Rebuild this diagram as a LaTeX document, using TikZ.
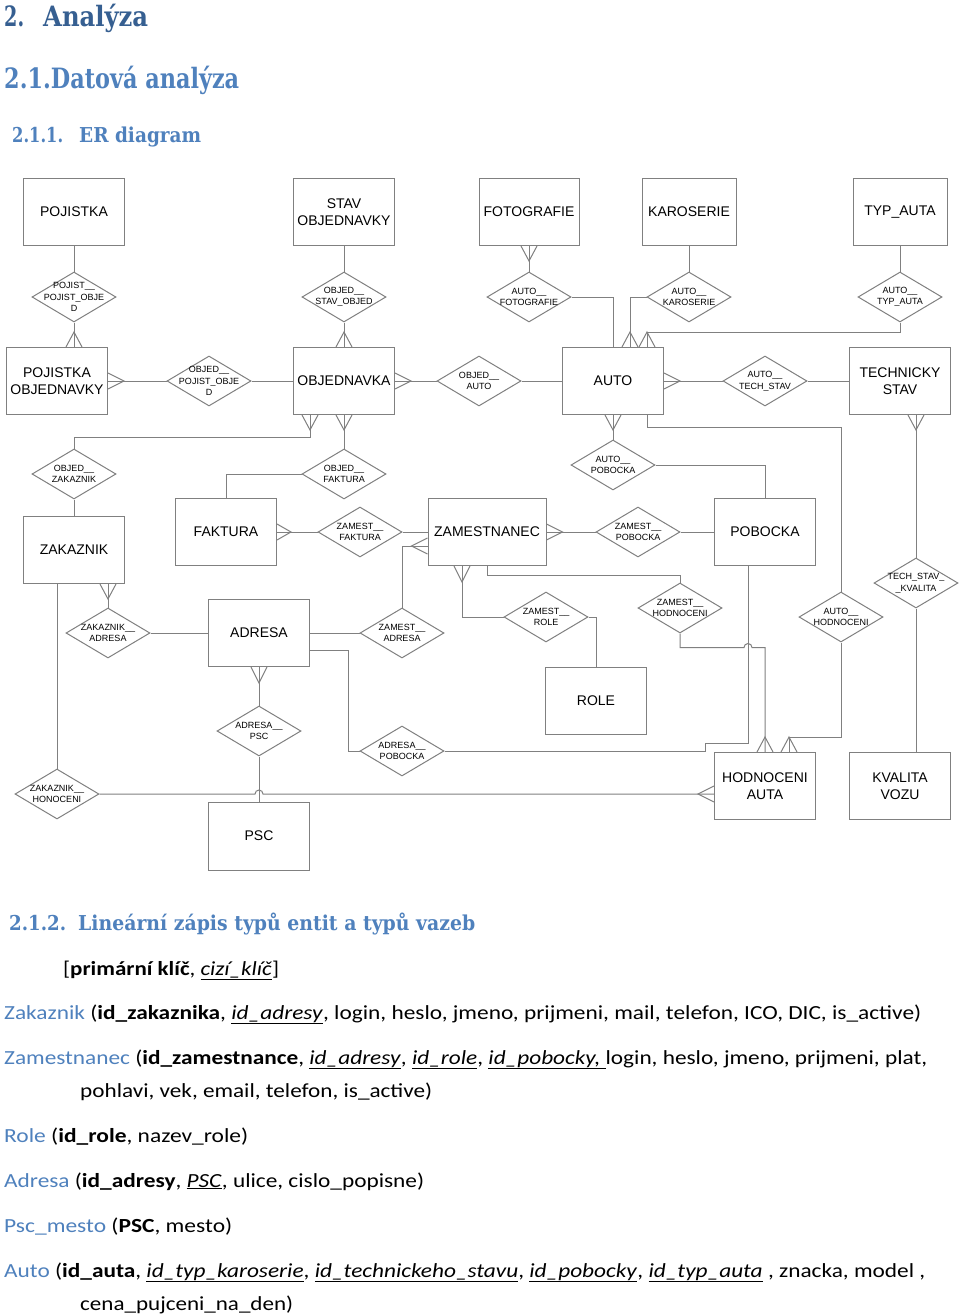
\documentclass[tikz,border=0pt]{standalone}
\usepackage{fontspec}
\usepackage{graphicx}
\usetikzlibrary{shapes.geometric,calc}
\setmainfont{Carlito}
\newfontfamily\arialf{Liberation Sans}
\newfontfamily\headf{DejaVu Serif}
\definecolor{lc}{RGB}{128,128,128}
\definecolor{hdark}{RGB}{54,95,145}
\definecolor{hblue}{RGB}{79,129,189}
\newcommand{\fk}[1]{\underline{\textit{#1}}}
\newcommand{\rel}[3]{\node[reln] (#1) at (#2) {};\node[rtext] (#1-t) at (#1) {#3};}
\newcommand{\crowv}[2]{\draw[conn] ([xshift=-8pt]#1) -- ($(#1)+(0,#2)$) -- ([xshift=8pt]#1);}
\newcommand{\crowh}[2]{\draw[conn] ([yshift=-8pt]#1) -- ($(#1)+(#2,0)$) -- ([yshift=8pt]#1);}
\begin{document}
\begin{tikzpicture}[x=1pt,y=-1pt,
  ent/.style={draw=lc, line width=1pt, minimum width=101pt, minimum height=67pt, inner sep=0pt, align=center, text=black, font=\arialf\fontsize{14}{17.5}\selectfont},
  reln/.style={shape=diamond, draw=lc, line width=1pt, minimum width=84pt, minimum height=50pt, inner sep=0pt},
  rtext/.style={align=center, inner sep=0pt, text=black, font=\arialf\fontsize{9}{11.5}\selectfont},
  conn/.style={draw=lc, line width=1pt},
  txt/.style={anchor=base west, inner sep=0pt, text=black, font=\fontsize{20}{24}\selectfont},
  hd1/.style={anchor=base west, inner sep=0pt, text=hdark, font=\headf\bfseries\fontsize{28}{32}\selectfont},
  hd2/.style={anchor=base west, inner sep=0pt, text=hblue, font=\headf\bfseries\fontsize{28}{32}\selectfont},
  hd3/.style={anchor=base west, inner sep=0pt, text=hblue, font=\headf\bfseries\fontsize{20.5}{24}\selectfont}
]
\fill[white] (0,0) rectangle (960,1316);
\useasboundingbox (0,0) rectangle (960,1316);

% headings
\node[hd1] (h1n) at (4,27) {\resizebox{20pt}{\height}{2.}};
\node[hd1] (h1t) at (43,27) {\resizebox{105pt}{\height}{Analýza}};
\node[hd2] (h2) at (4,89) {\resizebox{235pt}{\height}{2.1.Datová analýza}};
\node[hd3] (h3n) at (12,143) {\resizebox{51pt}{\height}{2.1.1.}};
\node[hd3] (h3t) at (79,143) {\resizebox{122pt}{\height}{ER diagram}};

% entities
\node[ent] (POJISTKA) at (74,212) {POJISTKA};
\node[ent] (STAVOBJ) at (344,212) {STAV\\OBJEDNAVKY};
\node[ent, minimum width=100pt] (FOTOGRAFIE) at (529,212) {FOTOGRAFIE};
\node[ent, minimum width=94pt] (KAROSERIE) at (689,212) {KAROSERIE};
\node[ent, minimum width=94pt] (TYPAUTA) at (900,212) {TYP\_AUTA};
\node[ent] (POJOBJ) at (57,381) {POJISTKA\\OBJEDNAVKY};
\node[ent] (OBJEDNAVKA) at (344,381) {OBJEDNAVKA};
\node[ent] (AUTO) at (613,381) {AUTO};
\node[ent] (TECHSTAV) at (900,381) {TECHNICKY\\STAV};
\node[ent] (ZAKAZNIK) at (74,550) {ZAKAZNIK};
\node[ent] (FAKTURA) at (226,532) {FAKTURA};
\node[ent, minimum width=118pt] (ZAMESTNANEC) at (487,532) {ZAMESTNANEC};
\node[ent] (POBOCKA) at (765,532) {POBOCKA};
\node[ent] (ADRESA) at (259,633) {ADRESA};
\node[ent] (ROLE) at (596,701) {ROLE};
\node[ent, minimum height=68pt] (PSC) at (259,836) {PSC};
\node[ent] (HODNOCENI) at (765,786) {HODNOCENI\\AUTA};
\node[ent] (KVALITA) at (900,786) {KVALITA\\VOZU};

% relationships
\rel{d1}{74,297}{POJIST\_\_\\POJIST\_OBJE\\D}
\rel{d2}{344,297}{OBJED\_\_\\STAV\_OBJED}
\rel{d3}{529,297}{AUTO\_\_\\FOTOGRAFIE}
\rel{d4}{689,297}{AUTO\_\_\\KAROSERIE}
\rel{d5}{900,297}{AUTO\_\_\\TYP\_AUTA}
\rel{d6}{209,381}{OBJED\_\_\\POJIST\_OBJE\\D}
\rel{d7}{479,381}{OBJED\_\_\\AUTO}
\rel{d8}{765,381}{AUTO\_\_\\TECH\_STAV}
\rel{d9}{74,474}{OBJED\_\_\\ZAKAZNIK}
\rel{d10}{344,474}{OBJED\_\_\\FAKTURA}
\rel{d11}{613,465}{AUTO\_\_\\POBOCKA}
\rel{d12}{360,532}{ZAMEST\_\_\\FAKTURA}
\rel{d13}{638,532}{ZAMEST\_\_\\POBOCKA}
\rel{d14}{916,583}{TECH\_STAV\_\\\_KVALITA}
\rel{d15}{108,633}{ZAKAZNIK\_\_\\ADRESA}
\rel{d16}{402,633}{ZAMEST\_\_\\ADRESA}
\rel{d17}{546,617}{ZAMEST\_\_\\ROLE}
\rel{d18}{680,608}{ZAMEST\_\_\\HODNOCENI}
\rel{d19}{841,617}{AUTO\_\_\\HODNOCENI}
\rel{d20}{259,731}{ADRESA\_\_\\PSC}
\rel{d21}{402,751}{ADRESA\_\_\\POBOCKA}
\rel{d22}{57,794}{ZAKAZNIK\_\_\\HONOCENI}

% helper coordinates
\coordinate (pojN) at (d1.south |- POJOBJ.north);
\coordinate (autoN1) at ([xshift=17pt]AUTO.north);
\coordinate (autoN2) at ([xshift=34pt]AUTO.north);
\coordinate (tsS) at ([xshift=16pt]TECHSTAV.south);
\coordinate (hodN2) at ([xshift=24pt]HODNOCENI.north);
\coordinate (objS1) at ([xshift=-34pt]OBJEDNAVKA.south);
\coordinate (zamW) at ([yshift=-14pt]ZAMESTNANEC.west);
\coordinate (zakS1) at ([xshift=34pt]ZAKAZNIK.south);
\coordinate (hodW) at (d22.east -| HODNOCENI.west);
\coordinate (hop1) at (d22.east -| d20.south);
\coordinate (pobS) at ([xshift=-17pt]POBOCKA.south);
\coordinate (zamS1) at ([xshift=-25pt]ZAMESTNANEC.south);
\coordinate (t1) at ($(d18.south)+(0,14)$);
\coordinate (hop2) at (t1 -| pobS);

% connectors
\draw[conn] (POJISTKA.south) -- (d1.north);
\draw[conn] (d1.south) -- (pojN);
\draw[conn] (STAVOBJ.south) -- (d2.north);
\draw[conn] (d2.south) -- (OBJEDNAVKA.north);
\draw[conn] (FOTOGRAFIE.south) -- (d3.north);
\draw[conn] (d3.east) -| (AUTO.north);
\draw[conn] (KAROSERIE.south) -- (d4.north);
\draw[conn] (d4.west) -| (autoN1);
\draw[conn] (TYPAUTA.south) -- (d5.north);
\draw[conn] (d5.south) |- ($(autoN2)+(0,-15)$) -- (autoN2);
\draw[conn] (POJOBJ.east) -- (d6.west);
\draw[conn] (d6.east) -- (OBJEDNAVKA.west);
\draw[conn] (OBJEDNAVKA.east) -- (d7.west);
\draw[conn] (d7.east) -- (AUTO.west);
\draw[conn] (AUTO.east) -- (d8.west);
\draw[conn] (d8.east) -- (TECHSTAV.west);
\draw[conn] (tsS) -- (d14.north);
\draw[conn] (d14.south) -- (d14.south |- KVALITA.north);
\draw[conn] (AUTO.south) -- (d11.north);
\draw[conn] (d11.east) -| (POBOCKA.north);
\draw[conn] ([xshift=34pt]AUTO.south) -- ++(0,12) -| (d19.north);
\draw[conn] (d19.south) |- ($(hodN2)+(0,-15)$) -- (hodN2);
\draw[conn] (objS1) -- ++(0,22) -| (d9.north);
\draw[conn] (OBJEDNAVKA.south) -- (d10.north);
\draw[conn] (d9.south) -- (ZAKAZNIK.north);
\draw[conn] (d10.west) -| (FAKTURA.north);
\draw[conn] (FAKTURA.east) -- (d12.west);
\draw[conn] (d12.east) -- (ZAMESTNANEC.west);
\draw[conn] (ZAMESTNANEC.east) -- (d13.west);
\draw[conn] (d13.east) -- (POBOCKA.west);
\draw[conn] (zamW) -| (d16.north);
\draw[conn] (d16.west) -- (ADRESA.east);
\draw[conn] (zakS1) -- (d15.north);
\draw[conn] (d15.east) -- (ADRESA.west);
\draw[conn] ([xshift=-17pt]ZAKAZNIK.south) -- (d22.north);
\draw[conn] (d22.east) -- ([xshift=-4pt]hop1) arc[start angle=180, end angle=0, radius=4pt] -- (hodW);
\draw[conn] (ADRESA.south) -- (d20.north);
\draw[conn] (d20.south) -- (PSC.north);
\draw[conn] ([yshift=-17pt]ADRESA.east) -- ++(38,0) |- (d21.west);
\draw[conn] (d21.east) -- ++(261,0) -- ++(0,-8) -| (pobS);
\draw[conn] (zamS1) |- (d17.west);
\draw[conn] (d17.east) -| (ROLE.north);
\draw[conn] (ZAMESTNANEC.south) -- ++(0,9) -| (d18.north);
\draw[conn] (d18.south) -- (t1) -- ([xshift=-4pt]hop2) arc[start angle=180, end angle=0, radius=4pt] -| (HODNOCENI.north);

% crow's feet
\crowv{pojN}{-15}
\crowv{OBJEDNAVKA.north}{-15}
\crowv{FOTOGRAFIE.south}{15}
\crowv{autoN1}{-15}
\crowv{autoN2}{-15}
\crowh{POJOBJ.east}{16}
\crowh{OBJEDNAVKA.east}{16}
\crowh{AUTO.east}{16}
\crowv{tsS}{15}
\crowv{AUTO.south}{15}
\crowv{objS1}{15}
\crowv{OBJEDNAVKA.south}{15}
\crowh{FAKTURA.east}{14}
\crowh{ZAMESTNANEC.east}{16}
\crowh{zamW}{-16}
\crowv{zakS1}{15}
\crowh{hodW}{-16}
\crowv{ADRESA.south}{16}
\crowv{zamS1}{16}
\crowv{HODNOCENI.north}{-15}
\crowv{hodN2}{-15}

% linear notation
\node[hd3] (h4n) at (9,930) {\resizebox{57pt}{\height}{2.1.2.}};
\node[hd3] (h4t) at (78,930) {\resizebox{397pt}{\height}{Lineární zápis typů entit a typů vazeb}};
\node[txt] (key) at (63,975) {\resizebox{216pt}{\height}{[\textbf{primární klíč}, \fk{cizí\_klíč}]}};
\node[txt] (l1) at (4,1019) {\resizebox{917pt}{\height}{\textcolor{hblue}{Zakaznik} (\textbf{id\_zakaznika}, \fk{id\_adresy}, login, heslo, jmeno, prijmeni, mail, telefon, ICO, DIC, is\_active)}};
\node[txt] (l2) at (4,1064) {\resizebox{923pt}{\height}{\textcolor{hblue}{Zamestnanec} (\textbf{id\_zamestnance}, \fk{id\_adresy}, \fk{id\_role}, \fk{id\_pobocky,~}login, heslo, jmeno, prijmeni, plat,}};
\node[txt] (l3) at (80,1097) {\resizebox{352pt}{\height}{pohlavi, vek, email, telefon, is\_active)}};
\node[txt] (l4) at (4,1142) {\resizebox{244pt}{\height}{\textcolor{hblue}{Role} (\textbf{id\_role}, nazev\_role)}};
\node[txt] (l5) at (4,1187) {\resizebox{420pt}{\height}{\textcolor{hblue}{Adresa} (\textbf{id\_adresy}, \fk{PSC}, ulice, cislo\_popisne)}};
\node[txt] (l6) at (4,1232) {\resizebox{228pt}{\height}{\textcolor{hblue}{Psc\_mesto} (\textbf{PSC}, mesto)}};
\node[txt] (l7) at (4,1277) {\resizebox{921pt}{\height}{\textcolor{hblue}{Auto} (\textbf{id\_auta}, \fk{id\_typ\_karoserie}, \fk{id\_technickeho\_stavu}, \fk{id\_pobocky}, \fk{id\_typ\_auta} , znacka, model ,}};
\node[txt] (l8) at (80,1310) {\resizebox{213pt}{\height}{cena\_pujceni\_na\_den)}};
\end{tikzpicture}
\end{document}
